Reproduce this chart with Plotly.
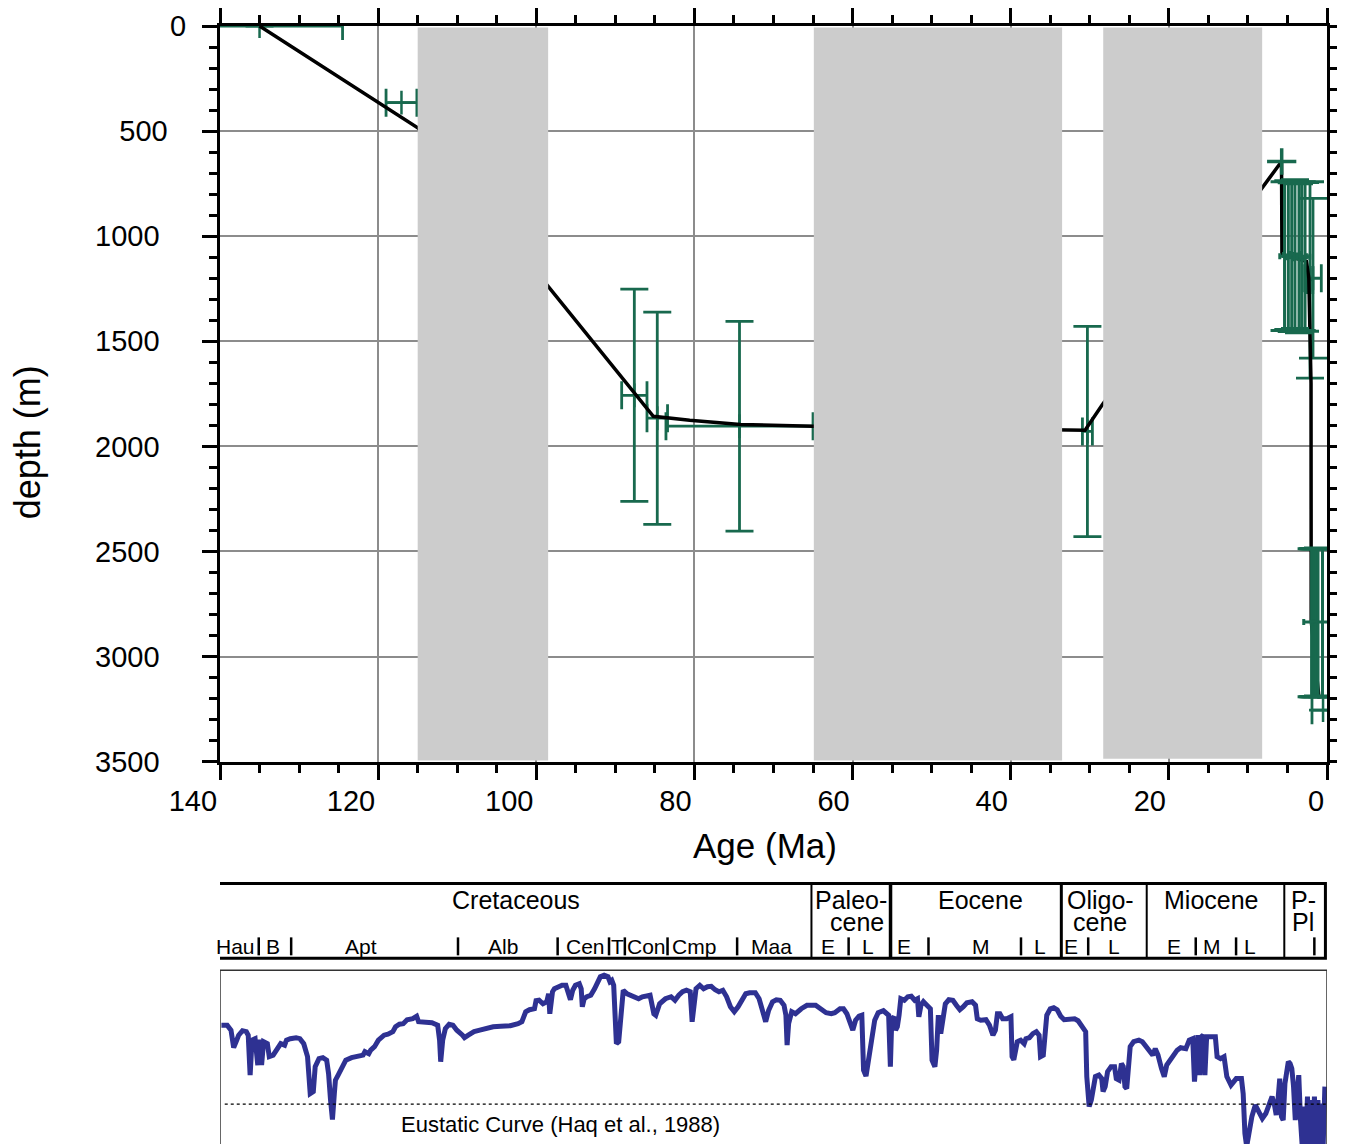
import plotly.graph_objects as go

# ---------------- data ----------------
# age-depth model (black line)
model_age = [135.0, 115.0, 98.5, 85.2, 80.6, 74.2, 65.0, 33.5, 30.6, 28.4, 8.2, 5.75, 5.7, 2.6, 2.3, 2.02, 2.0, 1.0]
model_depth = [0, 484, 1239, 1857, 1876, 1896, 1904, 1923, 1923, 1801, 765, 645, 1087, 1120, 1200, 1700, 2830, 3200]

# biostratigraphic datums (green, with age / depth uncertainty)
pt_age = [135.0, 117.05, 87.6, 84.7, 74.3, 30.3, 2.15, 1.77, 0.5]
pt_depth = [0, 365, 1757, 1866, 1904, 1929, 1208, 1200, 3255]
pt_age_err = [10.5, 1.95, 1.6, 1.3, 9.3, 0.63, 0.35, 1.05, 1.4]
pt_depth_err = [None, None, 505, 505, 499, 500, 467, 380, None]

# dense Plio-Pleistocene datums
clus_age = [5.37, 4.89, 4.46, 4.05, 3.54, 3.2, 2.78,
            1.95, 1.80, 1.65, 1.50, 1.35, 1.20, 1.14, 0.57]
clus_depth = [1095, 1090, 1100, 1085, 1105, 1095, 1098,
              2839, 2839, 2839, 2839, 2839, 2839, 2835, 2839]
clus_age_err = [0.6, 0.6, 0.6, 0.6, 0.6, 0.6, 0.6,
                None, None, None, None, None, None, 1.8, None]
clus_depth_err = [354, 354, 354, 354, 354, 354, 354,
                  352, 352, 352, 352, 352, 352, 352, 352]

cross_age = [5.73]
cross_depth = [645]
cross_age_err = [1.85]
cross_depth_err = [63]

# hiatuses (grey bands)
hiatus_old = [115.0, 64.9, 28.3]
hiatus_young = [98.5, 33.5, 8.2]
hiatus_bottom = [3494, 3494, 3486]

# depth axis tick labels
depth_ticks = [0, 500, 1000, 1500, 2000, 2500, 3000, 3500]
depth_tick_labels = ["0", "500", "1000", "1500", "2000", "2500", "3000", "3500"]

# Eustatic curve (Haq et al., 1988) - age (Ma), relative sea level (m)
sl_age = [139.82, 139.09, 138.61, 138.27, 137.88, 137.64, 137.16, 136.67, 136.43, 136.19,
          135.95, 135.56, 135.22, 134.98, 134.74, 134.49, 134.01, 133.77, 133.28, 132.80,
          132.32, 131.83, 131.59, 131.11, 130.38, 129.90, 129.41, 128.93, 128.59, 128.20,
          127.96, 127.48, 126.99, 126.51, 126.27, 126.02, 125.78, 125.54, 125.40, 125.06,
          124.57, 124.09, 123.36, 122.64, 121.91, 121.67, 121.18, 120.94, 120.46, 119.97,
          119.25, 118.76, 118.14, 117.80, 117.31, 116.83, 116.34, 115.62, 115.13, 114.89,
          114.17, 113.20, 112.47, 112.23, 112.09, 111.84, 111.50, 111.02, 110.54, 110.05,
          109.33, 109.08, 108.60, 108.36, 107.87, 107.15, 106.42, 105.45, 104.49, 103.28,
          102.31, 101.82, 101.34, 100.86, 100.23, 100.03, 99.65, 99.40, 99.16, 98.68,
          98.44, 98.29, 98.10, 97.95, 97.71, 97.23, 96.74, 96.26, 96.02, 95.68,
          95.39, 95.05, 94.56, 94.32, 94.18, 93.94, 93.60, 93.11, 92.63, 92.14,
          91.90, 91.42, 90.93, 90.69, 90.45, 90.21, 89.87, 89.58, 89.24, 89.00,
          88.51, 88.03, 87.55, 87.06, 86.58, 85.61, 85.13, 84.89, 84.40, 83.67,
          82.95, 82.46, 81.98, 81.50, 81.01, 80.53, 80.29, 80.05, 79.80, 79.32,
          78.84, 78.35, 77.87, 77.38, 76.90, 76.41, 75.93, 75.45, 74.96, 74.48,
          73.99, 73.51, 73.03, 72.30, 71.82, 71.33, 70.99, 70.61, 70.12, 69.64,
          69.15, 68.67, 68.43, 68.28, 68.09, 67.70, 67.22, 66.49, 65.77,
          64.67, 64.01, 63.35, 62.69, 62.25, 61.59, 61.15, 60.72, 60.28, 59.97,
          59.62, 59.18, 58.83, 58.61, 58.30, 57.99, 57.64, 57.20, 56.76, 56.10,
          55.44, 55.22, 55.04, 54.78, 54.56, 54.34, 54.12, 53.90, 53.46, 53.02,
          52.58, 52.14, 51.79, 51.62, 51.35, 51.04, 50.60, 50.16, 49.95, 49.59,
          49.37, 49.15, 48.85, 48.63, 48.27, 47.83, 47.31, 46.87, 46.43, 45.99,
          45.55, 44.89, 44.45, 44.23, 43.79, 43.13, 42.69, 42.25, 41.94, 41.68,
          41.37, 41.02, 40.49, 39.97, 39.83, 39.61, 39.39, 39.17, 38.74, 38.30,
          38.08, 37.64, 37.20, 36.76, 36.41, 36.23, 35.88, 35.66, 35.44, 35.00,
          34.56, 34.12, 33.68, 33.24, 32.58, 31.92, 31.48, 31.04, 30.52, 30.38,
          30.25, 30.08, 29.81, 29.50, 29.29, 28.85, 28.49, 28.32, 28.05, 27.75,
          27.31, 26.87, 26.65, 26.30, 26.00, 25.77, 25.55, 25.33, 25.11, 24.89,
          24.45, 23.79, 23.35, 22.91, 22.25, 22.03, 21.72, 21.37, 20.93, 20.58,
          20.27, 19.83, 19.39, 18.95, 18.51, 17.85, 17.42, 16.98, 16.76, 16.54,
          16.32, 16.10, 15.88, 15.66, 15.44, 15.22, 14.56, 14.12, 13.90, 13.46,
          13.02, 12.67, 12.14, 11.48, 10.82, 10.60, 10.38, 10.16, 9.94, 9.50,
          9.06, 8.62, 8.18, 7.74, 7.30, 6.95, 6.64, 6.42, 6.20, 5.98,
          5.76, 5.54, 5.32, 5.10, 4.89, 4.67, 4.45, 4.23, 4.01, 3.79,
          3.57, 3.35, 3.13, 2.91, 2.69, 2.47, 2.25, 2.03, 1.81, 1.59,
          1.37, 1.15, 0.93, 0.71, 0.49, 0.27]
sl_level = [158, 158, 148, 113, 128, 138, 147, 145, 138, 58,
            128, 131, 78, 129, 78, 125, 121, 95, 98, 111,
            121, 118, 128, 131, 133, 131, 121, 95, 21, 25,
            75, 91, 93, 88, 61, 8, -31, 21, 48, 58,
            75, 88, 93, 95, 98, 105, 101, 108, 115, 128,
            138, 140, 145, 155, 160, 161, 169, 171, 176, 165,
            165, 163, 158, 128, 85, 128, 151, 160, 158, 148,
            138, 133, 138, 141, 145, 148, 151, 155, 156, 157,
            161, 165, 185, 189, 191, 207, 208, 205, 201, 205,
            221, 181, 208, 225, 231, 235, 238, 238, 225, 209,
            228, 238, 241, 231, 195, 211, 215, 218, 231, 245,
            255, 258, 255, 245, 248, 238, 121, 125, 208, 228,
            221, 218, 215, 211, 215, 218, 181, 178, 201, 211,
            215, 208, 218, 225, 228, 225, 165, 208, 231, 238,
            231, 235, 236, 229, 225, 228, 215, 195, 185, 195,
            208, 221, 223, 223, 211, 178, 165, 188, 205, 209,
            208, 198, 178, 118, 161, 185, 181, 191, 198,
            198, 191, 183, 181, 183, 191, 191, 181, 158, 148,
            168, 176, 178, 68, 56, 88, 135, 168, 183, 187,
            178, 75, 171, 175, 148, 155, 178, 211, 208, 215,
            216, 208, 211, 175, 198, 205, 198, 191, 88, 75,
            108, 178, 141, 171, 201, 209, 208, 198, 189, 195,
            203, 205, 198, 171, 168, 169, 158, 138, 148, 181,
            181, 171, 171, 175, 95, 89, 111, 125, 128, 121,
            131, 133, 141, 145, 138, 95, 98, 135, 178, 191,
            193, 189, 176, 169, 169, 171, 167, 155, 145, 55,
            25, -5, 8, 35, 55, 58, 51, 25, 35, 65,
            75, 75, 51, 48, 81, 75, 35, 31, 75, 115,
            125, 128, 125, 115, 101, 98, 111, 98, 71, 55,
            78, 88, 98, 108, 113, 111, 128, 131, 45, 115,
            138, 58, 135, 138, 58, 135, 136, 135, 95, 91,
            95, 55, 38, 51, 51, 21, -59, -85, -65, -25,
            -2, -15, -29, -19, 1, 15, -2, -22, 8, 51,
            -25, -32, 41, 75, 85, 81, 71, 35, -32, 21,
            58, -32, -85, -5, -85, 15, -85, 8, -85, 15,
            -85, 8, -85, 1, -85, 35]
assert len(sl_age) == len(sl_level)

# time scale
epoch_bounds = [65.2, 55.2, 33.6, 22.8, 5.4]
epoch_widths = [2, 3.5, 3, 2, 2]
epoch_labels = [("Cretaceous", 102.6, 0), ("Paleo-", 60.2, 0), ("cene", 59.4, 1),
                ("Eocene", 43.8, 0), ("Oligo-", 28.7, 0), ("cene", 28.7, 1),
                ("Miocene", 14.6, 0), ("P-", 3.0, 0), ("Pl", 3.0, 1)]
stage_labels = [("Hau", 138.0), ("B", 133.3), ("Apt", 122.2), ("Alb", 104.2),
                ("Cen", 93.8), ("T", 89.7), ("Con", 86.1), ("Cmp", 80.0), ("Maa", 70.2),
                ("E", 63.1), ("L", 58.1), ("E", 53.5), ("M", 43.8), ("L", 36.3),
                ("E", 32.4), ("L", 26.9), ("E", 19.4), ("M", 14.5), ("L", 9.7)]
stage_bars = [135.1, 131.0, 109.9, 97.3, 90.8, 88.8, 83.4, 74.6,
              60.5, 50.4, 38.7, 30.2, 16.6, 11.5, 1.6]

# ---------------- layout geometry ----------------
OFF = 8                    # default page body margin
KY = 1144 / 1160           # vertical scale of the photographed page
W = 1337
H = 1152


def page_y(ys):
    return ys / KY


ML = 220 - OFF
MR = W - (1327 - OFF)
MT = page_y(24) - OFF
MB = 0
PW = W - ML - MR
PH = H - MT - MB
BOTTOM = OFF + H - MB


def py(ys):
    """photo pixel row -> paper fraction"""
    return (BOTTOM - page_y(ys)) / PH


def px(xs):
    """photo pixel column -> paper fraction"""
    return (xs - 220) / PW


FONT = "Liberation Sans, Arial, Helvetica, sans-serif"
GREEN = "#18694e"
BLUE = "#2e3192"
GRID = "#8c8c8c"

# right padding of the depth labels (their right edges differ in the original)
NB = "\u00a0"
pad = {1: "", 3: NB * 2 + "\u200a", 4: NB * 3 + "\u200a"}
depth_tick_text = [t + pad[len(t)] for t in depth_tick_labels]

fig = go.Figure()

fig.add_trace(go.Scatter(
    x=pt_age, y=pt_depth, mode="markers", xaxis="x", yaxis="y",
    marker=dict(symbol="line-ns-open", size=17, color=GREEN,
                line=dict(color=GREEN, width=2.5)),
    error_x=dict(type="data", array=pt_age_err, color=GREEN, thickness=2.8, width=14),
    error_y=dict(type="data", array=pt_depth_err, color=GREEN, thickness=2.8, width=14),
    showlegend=False, hoverinfo="skip"))

fig.add_trace(go.Scatter(
    x=model_age, y=model_depth, mode="lines", xaxis="x", yaxis="y",
    line=dict(color="black", width=3.5), showlegend=False, hoverinfo="skip"))

fig.add_trace(go.Scatter(
    x=clus_age, y=clus_depth, mode="markers", xaxis="x", yaxis="y",
    marker=dict(size=1, color=GREEN),
    error_x=dict(type="data", array=clus_age_err, color=GREEN, thickness=3, width=3),
    error_y=dict(type="data", array=clus_depth_err, color=GREEN, thickness=3, width=14),
    showlegend=False, hoverinfo="skip"))

fig.add_trace(go.Scatter(
    x=cross_age, y=cross_depth, mode="markers", xaxis="x", yaxis="y",
    marker=dict(size=1, color=GREEN),
    error_x=dict(type="data", array=cross_age_err, color=GREEN, thickness=3.5, width=0),
    error_y=dict(type="data", array=cross_depth_err, color=GREEN, thickness=3.5, width=0),
    showlegend=False, hoverinfo="skip"))

fig.add_trace(go.Scatter(
    x=sl_age, y=sl_level, mode="lines", xaxis="x2", yaxis="y2",
    line=dict(color=BLUE, width=5), showlegend=False, hoverinfo="skip"))

shapes = []
for a0, a1, b in zip(hiatus_old, hiatus_young, hiatus_bottom):
    shapes.append(dict(type="rect", xref="x", yref="y", x0=a0, x1=a1, y0=7, y1=b,
                       fillcolor="#cccccc", line=dict(width=0), layer="above"))

# time-scale box
shapes.append(dict(type="rect", xref="x", yref="paper", x0=140.25, x1=0.2,
                   y0=py(958), y1=py(883), line=dict(color="black", width=3),
                   fillcolor="rgba(0,0,0,0)", layer="above"))
for a, w in zip(epoch_bounds, epoch_widths):
    shapes.append(dict(type="line", xref="x", yref="paper", x0=a, x1=a,
                       y0=py(958), y1=py(883), line=dict(color="black", width=w)))
for a in stage_bars:
    shapes.append(dict(type="line", xref="x", yref="paper", x0=a, x1=a,
                       y0=py(955), y1=py(937), line=dict(color="black", width=2.5)))

# eustatic panel frame
shapes.append(dict(type="line", xref="x2", yref="paper", x0=140, x1=0, y0=py(970), y1=py(970),
                   line=dict(color="#333333", width=1.5)))
shapes.append(dict(type="line", xref="x2", yref="paper", x0=140, x1=140, y0=0, y1=py(970),
                   line=dict(color="#333333", width=1.5)))
shapes.append(dict(type="line", xref="x2", yref="paper", x0=0, x1=0, y0=0, y1=py(970),
                   line=dict(color="#333333", width=1.5)))
shapes.append(dict(type="line", xref="x2", yref="y2", x0=139.4, x1=0, y0=0, y1=0,
                   line=dict(color="black", width=1.2, dash="dot")))

annotations = []
for txt, a, line in epoch_labels:
    annotations.append(dict(text=txt, x=a, y=py(900 + 22 * line), xref="x", yref="paper",
                            showarrow=False, xanchor="center", yanchor="middle",
                            font=dict(family=FONT, size=25, color="black")))
for txt, a in stage_labels:
    annotations.append(dict(text=txt, x=a, y=py(946), xref="x", yref="paper",
                            showarrow=False, xanchor="center", yanchor="middle",
                            font=dict(family=FONT, size=21, color="black")))
annotations.append(dict(text="Eustatic Curve (Haq et al., 1988)", x=97.0, y=-40,
                        xref="x2", yref="y2", showarrow=False, xanchor="center",
                        yanchor="middle", font=dict(family=FONT, size=22, color="black")))
for txt, lev in [("+", 84), ("0", -2), ("-", -68)]:
    annotations.append(dict(text=txt, x=px(1335), y=lev, xref="paper", yref="y2",
                            showarrow=False, xanchor="left", yanchor="middle",
                            font=dict(family=FONT, size=22, color="black")))
annotations.append(dict(text="Age (Ma)", x=px(765), y=py(845), xref="paper",
                        yref="paper", showarrow=False, xanchor="center", yanchor="middle",
                        font=dict(family=FONT, size=35, color="black")))
annotations.append(dict(text="depth (m)", x=px(27), y=py(441), xref="paper",
                        yref="paper", showarrow=False, xanchor="center", yanchor="middle",
                        textangle=-90, font=dict(family=FONT, size=36, color="black")))

axis_common = dict(showgrid=True, gridcolor=GRID, gridwidth=2, zeroline=False,
                   showline=True, linecolor="black", linewidth=3, mirror="allticks",
                   ticks="outside", ticklen=15, tickwidth=2.8, tickcolor="black",
                   tickfont=dict(family=FONT, size=29, color="black"))

fig.update_layout(
    width=W, height=H, margin=dict(l=ML, r=MR, t=MT, b=MB),
    plot_bgcolor="white", paper_bgcolor="white", showlegend=False,
    xaxis=dict(domain=[0, 1], anchor="y", range=[140, 0], dtick=20, tick0=0,
               ticklabelposition="outside left", ticklabelstandoff=12,
               minor=dict(dtick=5, tick0=0, ticks="outside", ticklen=8, tickwidth=2.8,
                          tickcolor="black", showgrid=False),
               **axis_common),
    yaxis=dict(domain=[py(761), 1], anchor="x", range=[3500, 0],
               tickmode="array", tickvals=depth_ticks, ticktext=depth_tick_text,
               ticklabelstandoff=10,
               minor=dict(dtick=100, tick0=0, ticks="outside", ticklen=8, tickwidth=2.8,
                          tickcolor="black", showgrid=False),
               **axis_common),
    xaxis2=dict(domain=[0, 1], anchor="y2", range=[140, 0], visible=False),
    yaxis2=dict(domain=[0, py(970)], anchor="x2", range=[-80, 268], visible=False),
    shapes=shapes, annotations=annotations,
)

fig.write_html("out.html", config={"displayModeBar": False})
